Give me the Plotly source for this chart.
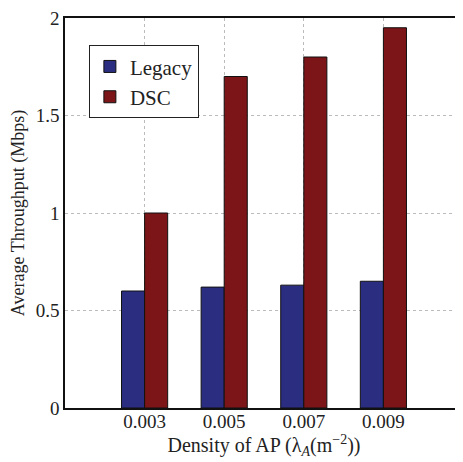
import plotly.graph_objects as go

categories = ["0.003", "0.005", "0.007", "0.009"]
legacy = [0.60, 0.62, 0.63, 0.65]
dsc = [1.00, 1.70, 1.80, 1.95]
y_ticks = [0, 0.5, 1, 1.5, 2]
y_tick_labels = ["0", "0.5", "1", "1.5", "2"]

FONT = "Liberation Serif, Times New Roman, serif"
TXT = "#222222"

fig = go.Figure()
fig.add_trace(go.Bar(name="Legacy", x=categories, y=legacy,
                     marker=dict(color="#2b2e80", line=dict(color="#111111", width=1))))
fig.add_trace(go.Bar(name="DSC", x=categories, y=dsc,
                     marker=dict(color="#7c1517", line=dict(color="#111111", width=1))))

fig.update_layout(
    width=455, height=454,
    margin=dict(l=57, r=0, t=8, b=54),
    barmode="group", bargap=0.42, bargroupgap=0,
    plot_bgcolor="white", paper_bgcolor="white",
    font=dict(family=FONT, size=18, color=TXT),
    showlegend=True,
    legend=dict(x=0.06, y=0.93, xanchor="left", yanchor="top",
                bordercolor="#222222", borderwidth=1, bgcolor="white",
                font=dict(family=FONT, size=21, color=TXT),
                itemwidth=30, tracegroupgap=0),
    xaxis=dict(type="category", range=[-1, 4], showline=True, linecolor="#111111",
               linewidth=1.5, mirror=True, showgrid=True, gridcolor="#bbbbbb",
               griddash="dot", gridwidth=1, ticks="", ticklabelstandoff=-5,
               tickfont=dict(family=FONT, size=19, color=TXT),
               title=dict(text="Density of AP (λ<sub><i>A</i></sub>(m<sup>−2</sup>))",
                          font=dict(family=FONT, size=20, color=TXT), standoff=6)),
    yaxis=dict(range=[0, 2], tickvals=y_ticks, ticktext=y_tick_labels,
               showline=True, linecolor="#111111", linewidth=1.5, mirror=False,
               showgrid=True, gridcolor="#bbbbbb", griddash="dot", gridwidth=1,
               zeroline=False, ticks="", ticklabeloverflow="allow",
               tickfont=dict(family=FONT, size=19, color=TXT),
               title=dict(text="Average Throughput (Mbps)",
                          font=dict(family=FONT, size=18, color=TXT), standoff=10)),
)

fig.write_html("out.html")
